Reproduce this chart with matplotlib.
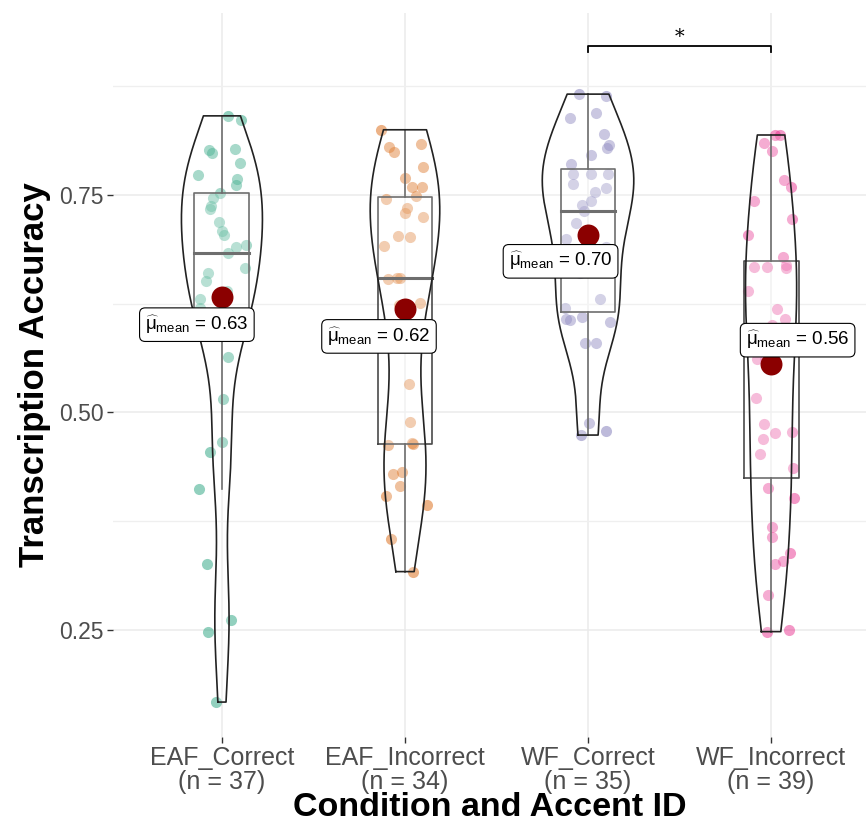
import numpy as np
import matplotlib.pyplot as plt
from matplotlib.ticker import MultipleLocator

plt.rcParams['font.family'] = ['Liberation Sans', 'DejaVu Sans']
plt.rcParams['mathtext.fontset'] = 'custom'
plt.rcParams['mathtext.rm'] = 'Liberation Sans'
plt.rcParams['mathtext.it'] = 'Liberation Sans:italic'

# data (transcription accuracy per participant)
groups = ['EAF_Correct', 'EAF_Incorrect', 'WF_Correct', 'WF_Incorrect']
eaf_correct = [0.841, 0.836, 0.803, 0.802, 0.798, 0.787, 0.773, 0.768, 0.762, 0.752,
               0.746, 0.737, 0.734, 0.719, 0.709, 0.704, 0.693, 0.690, 0.683, 0.666,
               0.660, 0.651, 0.640, 0.630, 0.620, 0.610, 0.600, 0.590, 0.564, 0.515,
               0.466, 0.455, 0.412, 0.326, 0.261, 0.248, 0.167]
eaf_incorrect = [0.825, 0.809, 0.805, 0.800, 0.782, 0.770, 0.759, 0.759, 0.749, 0.745,
                 0.735, 0.729, 0.725, 0.703, 0.702, 0.691, 0.655, 0.655, 0.653, 0.626,
                 0.624, 0.600, 0.533, 0.489, 0.465, 0.464, 0.463, 0.432, 0.429, 0.415,
                 0.404, 0.394, 0.354, 0.317]
wf_correct = [0.866, 0.864, 0.844, 0.838, 0.820, 0.807, 0.804, 0.796, 0.786, 0.774,
              0.774, 0.774, 0.763, 0.758, 0.753, 0.743, 0.738, 0.732, 0.718, 0.699,
              0.690, 0.680, 0.670, 0.660, 0.631, 0.620, 0.610, 0.608, 0.606, 0.604,
              0.580, 0.580, 0.488, 0.479, 0.474]
wf_incorrect = [0.819, 0.819, 0.810, 0.801, 0.767, 0.759, 0.743, 0.722, 0.704, 0.679,
                0.669, 0.667, 0.667, 0.666, 0.640, 0.619, 0.607, 0.600, 0.590, 0.580,
                0.562, 0.562, 0.517, 0.487, 0.477, 0.476, 0.470, 0.452, 0.436, 0.413,
                0.402, 0.368, 0.357, 0.338, 0.329, 0.326, 0.290, 0.250, 0.248]
data = [eaf_correct, eaf_incorrect, wf_correct, wf_incorrect]
colors = ['#1B9E77', '#D95F02', '#7570B3', '#E7298A']
sig_pair = (3, 4)
sig_label = '*'

# label offsets from the mean point (like ggrepel put them)
label_off = [(-0.137, -0.032), (-0.142, -0.032), (-0.15, -0.030), (0.145, 0.027)]


def nrd0(x):
    sd = np.std(x, ddof=1)
    q75, q25 = np.percentile(x, [75, 25])
    return 0.9 * min(sd, (q75 - q25) / 1.34) * len(x) ** -0.2


def kde(x, grid, bw):
    z = (grid[:, None] - x[None, :]) / bw
    return np.exp(-0.5 * z ** 2).sum(1) / (len(x) * bw * np.sqrt(2 * np.pi))


fig = plt.figure(figsize=(8.68, 8.27), dpi=100)
ax = fig.add_axes([0.130, 0.109, 0.868, 0.875])

rng = np.random.default_rng(7)

dens = []
for vals in data:
    v = np.array(vals)
    grid = np.linspace(v.min(), v.max(), 512)
    dens.append((grid, kde(v, grid, nrd0(v))))
dmax = max(d.max() for _, d in dens)

for i, vals in enumerate(data):
    xc = i + 1
    v = np.array(vals)
    # jittered points
    jx = xc + rng.uniform(-0.13, 0.13, len(v))
    ax.scatter(jx, v, s=64, color=colors[i], alpha=0.48, linewidths=0, zorder=2)

    # boxplot
    q1, med, q3 = np.percentile(v, [25, 50, 75])
    iqr = q3 - q1
    lo = v[v >= q1 - 1.5 * iqr].min()
    hi = v[v <= q3 + 1.5 * iqr].max()
    bw = 0.15
    ax.fill_between([xc - bw, xc + bw], q1, q3, color='white', alpha=0.2, lw=0, zorder=3)
    ax.plot([xc - bw, xc + bw, xc + bw, xc - bw, xc - bw], [q1, q1, q3, q3, q1],
            color='#4A4A4A', lw=1.2, zorder=3)
    ax.plot([xc - bw, xc + bw], [med, med], color='#4A4A4A', lw=2.2, zorder=3)
    ax.plot([xc, xc], [q3, hi], color='#4A4A4A', lw=1.2, zorder=3)
    ax.plot([xc, xc], [lo, q1], color='#4A4A4A', lw=1.2, zorder=3)

    # violin, area-scaled like ggplot
    grid, d = dens[i]
    w = d / dmax * 0.25
    ax.fill_betweenx(grid, xc - w, xc + w, color='white', alpha=0.2, lw=0, zorder=4)
    ax.plot(np.r_[xc - w, (xc + w)[::-1], xc - w[0]], np.r_[grid, grid[::-1], grid[0]],
            color='#222222', lw=1.2, zorder=4)

    # mean point and label
    m = v.mean()
    ax.scatter([xc], [m], s=250, color='#8B0000', zorder=5, linewidths=0)
    dx, dy = label_off[i]
    ax.text(xc + dx, m + dy, r'$\widehat{\mathrm{\mu}}_{\mathrm{mean}}$' + ' = %.2f' % m,
            ha='center', va='center', fontsize=13.5, color='black', zorder=6,
            bbox=dict(boxstyle='round,pad=0.3,rounding_size=0.3', fc='white',
                      ec='black', lw=0.8))

# significance bracket
a, b = sig_pair
ax.plot([a, a, b, b], [0.914, 0.921, 0.921, 0.914], color='black', lw=1.3, zorder=5)
ax.text((a + b) / 2, 0.932, sig_label, ha='center', va='center', fontsize=14,
        family='DejaVu Serif')

ax.set_xlim(0.404, 4.52)
ax.set_ylim(0.127, 0.959)
ax.set_xticks(range(1, 5))
ax.set_xticklabels(['%s\n(n = %d)' % (g, len(d)) for g, d in zip(groups, data)],
                   fontsize=18, color='#4D4D4D', linespacing=1.0)
ax.set_yticks([0.25, 0.50, 0.75])
ax.set_yticklabels(['0.25', '0.50', '0.75'], fontsize=16.5, color='#4D4D4D')
ax.yaxis.set_minor_locator(MultipleLocator(0.125))
ax.tick_params(axis='both', which='major', length=4, width=1, color='#333333', pad=2.5)
ax.tick_params(axis='y', which='minor', length=0)
ax.grid(True, which='major', color='#EBEBEB', lw=1.1, zorder=0)
ax.grid(True, which='minor', axis='y', color='#EFEFEF', lw=0.9, zorder=0)
ax.set_axisbelow(True)
for s in ax.spines.values():
    s.set_visible(False)

ax.set_xlabel('Condition and Accent ID', fontsize=24.5, fontweight='bold', labelpad=-1)
ax.set_ylabel('Transcription Accuracy', fontsize=25, fontweight='bold', labelpad=6)

fig.savefig('out.png', dpi=100)
